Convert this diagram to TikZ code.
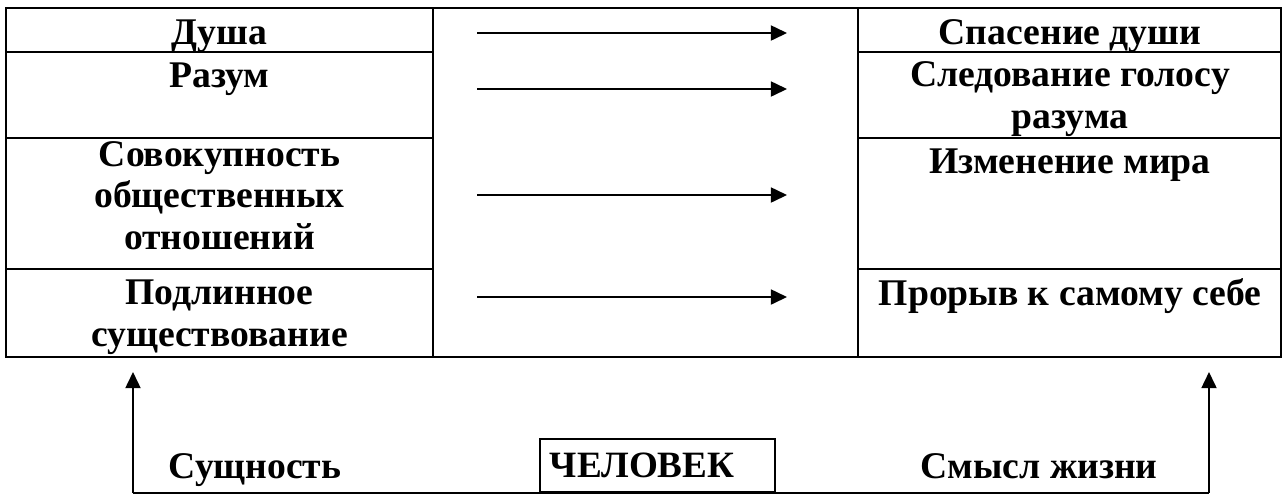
\documentclass[tikz,border=0pt]{standalone}
\usepackage{fontspec}
\setmainfont{Liberation Serif}
\usetikzlibrary{arrows.meta}

\tikzset{
  cell/.style={anchor=base, inner sep=0pt, align=center, font=\fontsize{14.5}{15.8}\selectfont\bfseries},
  arr/.style={-{Triangle[length=6.2pt,width=5.8pt]}},
  manbox/.style={draw, anchor=south west, inner xsep=3.85pt, inner ysep=0pt,
    text width=82.8pt, minimum height=20.4pt, align=left, font=\fontsize{14.3}{15.8}\selectfont\bfseries}
}

\begin{document}
\begin{tikzpicture}[x=0.385pt, y=-0.385pt, line width=0.65pt] % 1 单位 = 参考图 1 像素

    \useasboundingbox (0,0) rectangle (1288,494);

    % 1. 表格外框和两根竖线
    \draw (6,8) rectangle (1281,357);
    \draw (433,8) -- (433,357);
    \draw (858,8) -- (858,357);

    % 2. 左右两栏的横线 (中间一栏没有)
    \foreach \y in {52,138,269} {
      \draw (6,\y) -- (433,\y);
      \draw (858,\y) -- (1281,\y);
    }

    % 3. 左栏文字 (多行文字: 坐标给最后一行的基线)
    \node[cell] (soul) at (219.5,44) {Душа};
    \node[cell] (reason) at (219.5,87) {Разум};
    \node[cell] (relations) at (219.5,249) {Совокупность\\общественных\\отношений};
    \node[cell] (existence) at (219.5,346) {Подлинное\\существование};

    % 4. 右栏文字
    \node[cell] (salvation) at (1070,44) {Спасение души};
    \node[cell] (voice) at (1070,128) {Следование голосу\\разума};
    \node[cell] (change) at (1070,173) {Изменение мира};
    \node[cell] (breakthrough) at (1070,305) {Прорыв к самому себе};

    % 5. 中间一栏的四根箭头
    \foreach \y [count=\i] in {33,89,195,297} {
      \coordinate (from\i) at (477,\y);
      \coordinate (to\i) at (787,\y);
      \draw[arr] (from\i) -- (to\i);
    }

    % 6. 下方: 两根竖箭头和底线, 中间是 ЧЕЛОВЕК 方框
    \coordinate (essenceTop) at (133,372);
    \coordinate (essenceBot) at (133,493);
    \coordinate (meaningTop) at (1209,372);
    \coordinate (meaningBot) at (1209,493);
    \draw[arr] (essenceBot) -- (essenceTop);
    \draw (essenceBot) -- (meaningBot);
    \draw[arr] (meaningBot) -- (meaningTop);

    \node[manbox] (man) at (539,493) {ЧЕЛОВЕК};
    \node[cell] (essence) at (255,478) {Сущность};
    \node[cell] (meaning) at (1039,478) {Смысл жизни};

  \end{tikzpicture}
\end{document}
